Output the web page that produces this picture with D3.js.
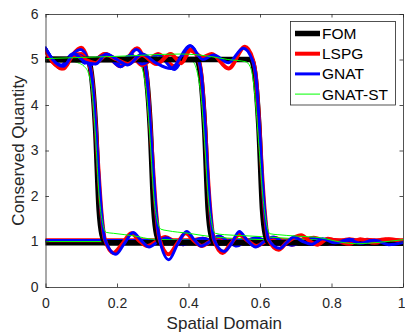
<!DOCTYPE html>
<html><head><meta charset="utf-8">
<script src="https://cdn.jsdelivr.net/npm/d3@7"></script>
<style>body{margin:0;background:#fff}svg{display:block}</style>
</head><body>
<script>
const xTicks = [0, 0.2, 0.4, 0.6, 0.8, 1];
const yTicks = [0, 1, 2, 3, 4, 5, 6];
const seriesNames = ["FOM", "LSPG", "GNAT", "GNAT-ST"];

// snapshot 0 (initial state)
const fom_t0 = [[0,0.97],[1,0.97]];
const lspg_t0 = [[0,1.03],[1,1.03]];
const gnat_t0 = [[0,1.02],[1,1.02]];
const st_t0 = [[0,1.0],[1,1.0]];

// snapshot 1
const fom_t1 = [[0,5],[0.118,5],[0.128,4.7],[0.14,3.5],[0.15,1.7],[0.158,1.15],[0.168,0.97],[1,0.97]];
const lspg_t1 = [[0,5.2],[0.02,4.97],[0.045,4.8],[0.07,5.05],[0.1,5.26],[0.118,5.0],[0.13,4.6],[0.14,3.6],[0.148,2.6],[0.157,1.6],[0.166,1.05],[0.19,0.75],[0.215,0.95],[0.24,1.18],[0.262,1.02],[0.285,0.9],[0.31,1.0],[0.335,1.1],[0.36,1.0],[0.385,0.94],[0.41,1.02],[0.44,1.06],[0.47,1.0],[0.5,0.96],[0.55,1.03],[0.6,0.98],[0.65,1.02],[0.7,0.99],[0.8,1.02],[0.9,0.99],[1,1.01]];
const gnat_t1 = [[0,5.25],[0.02,5.0],[0.043,4.83],[0.07,5.08],[0.098,5.22],[0.118,5.0],[0.13,4.6],[0.14,3.6],[0.148,2.6],[0.157,1.6],[0.166,1.05],[0.197,0.72],[0.22,0.95],[0.245,1.2],[0.268,1.02],[0.29,0.88],[0.315,1.0],[0.338,1.08],[0.36,1.0],[0.385,0.93],[0.41,1.0],[0.44,1.07],[0.47,1.0],[0.5,0.95],[0.55,1.04],[0.6,0.97],[0.65,1.03],[0.7,0.98],[0.8,1.02],[0.9,0.98],[1,1.0]];
const st_t1 = [[0,5.0],[0.06,4.98],[0.09,4.93],[0.108,4.85],[0.12,4.7],[0.13,4.3],[0.14,3.3],[0.15,2.0],[0.16,1.4],[0.17,1.2],[0.19,1.18],[0.25,1.12],[0.3,1.05],[0.4,1.03],[0.6,1.0],[1,1.0]];

// snapshot 2
const fom_t2 = [[0,5],[0.271,5],[0.281,4.7],[0.293,3.5],[0.303,1.7],[0.311,1.15],[0.321,0.97],[1,0.97]];
const lspg_t2 = [[0,5.2],[0.02,4.95],[0.045,4.85],[0.075,5.08],[0.1,5.12],[0.125,4.9],[0.165,5.12],[0.21,4.85],[0.256,5.25],[0.275,5.0],[0.284,4.6],[0.293,3.6],[0.301,2.6],[0.31,1.6],[0.319,1.05],[0.345,0.72],[0.368,0.95],[0.392,1.18],[0.415,1.02],[0.437,0.9],[0.46,1.0],[0.485,1.1],[0.51,1.0],[0.535,0.93],[0.56,1.0],[0.59,1.06],[0.62,1.0],[0.65,0.95],[0.7,1.05],[0.75,0.96],[0.8,1.04],[0.85,0.96],[0.9,1.04],[0.95,0.97],[1,1.02]];
const gnat_t2 = [[0,5.25],[0.02,5.0],[0.045,4.88],[0.075,5.12],[0.1,5.08],[0.125,4.88],[0.165,5.1],[0.21,4.84],[0.254,5.22],[0.275,5.0],[0.284,4.6],[0.293,3.6],[0.301,2.6],[0.31,1.6],[0.319,1.05],[0.345,0.6],[0.37,0.95],[0.395,1.22],[0.415,1.05],[0.435,0.9],[0.46,1.0],[0.485,1.12],[0.51,1.0],[0.535,0.9],[0.56,1.0],[0.59,1.08],[0.62,1.0],[0.65,0.94],[0.7,1.06],[0.75,0.95],[0.8,1.04],[0.85,0.95],[0.9,1.03],[0.95,0.96],[1,1.0]];
const st_t2 = [[0,4.98],[0.1,5.0],[0.2,5.03],[0.245,5.02],[0.262,4.92],[0.274,4.7],[0.283,4.2],[0.293,3.2],[0.303,2.0],[0.313,1.45],[0.323,1.27],[0.34,1.24],[0.4,1.18],[0.47,1.1],[0.55,1.06],[0.7,1.02],[1,1.0]];

// snapshot 3
const fom_t3 = [[0,5],[0.423,5],[0.433,4.7],[0.445,3.5],[0.455,1.7],[0.463,1.15],[0.473,0.97],[1,0.97]];
const lspg_t3 = [[0,5.2],[0.02,4.95],[0.05,4.82],[0.08,5.1],[0.11,4.95],[0.14,5.0],[0.17,5.12],[0.2,4.92],[0.24,5.08],[0.27,4.88],[0.315,5.12],[0.36,4.85],[0.407,5.22],[0.428,5.0],[0.437,4.6],[0.446,3.6],[0.453,2.6],[0.462,1.6],[0.471,1.05],[0.495,0.75],[0.518,0.95],[0.542,1.15],[0.565,1.02],[0.59,0.9],[0.615,1.0],[0.64,1.08],[0.665,1.0],[0.69,0.93],[0.72,1.02],[0.75,1.08],[0.8,0.95],[0.85,1.05],[0.9,0.96],[0.95,1.05],[1,1.0]];
const gnat_t3 = [[0,5.25],[0.02,5.0],[0.05,4.85],[0.08,5.12],[0.11,4.92],[0.14,5.02],[0.17,5.1],[0.2,4.9],[0.24,5.1],[0.27,4.9],[0.315,5.1],[0.36,4.78],[0.405,5.3],[0.428,5.0],[0.437,4.6],[0.446,3.6],[0.453,2.6],[0.462,1.6],[0.471,1.05],[0.5,0.78],[0.52,0.95],[0.542,1.22],[0.565,1.02],[0.588,0.88],[0.612,1.0],[0.637,1.1],[0.662,1.0],[0.688,0.92],[0.72,1.0],[0.75,1.07],[0.8,0.94],[0.85,1.05],[0.9,0.95],[0.95,1.03],[1,0.97]];
const st_t3 = [[0,5.0],[0.15,5.02],[0.3,5.05],[0.39,5.04],[0.413,4.95],[0.425,4.7],[0.435,4.2],[0.445,3.2],[0.455,2.0],[0.465,1.4],[0.475,1.18],[0.5,1.15],[0.55,1.13],[0.62,1.1],[0.7,1.06],[0.8,1.02],[1,1.0]];

// snapshot 4
const fom_t4 = [[0,5],[0.575,5],[0.585,4.7],[0.597,3.5],[0.607,1.7],[0.615,1.15],[0.625,0.97],[1,0.97]];
const lspg_t4 = [[0,5.2],[0.02,4.95],[0.05,4.8],[0.08,5.1],[0.11,5.0],[0.14,4.92],[0.17,5.1],[0.2,5.0],[0.23,4.9],[0.27,5.1],[0.31,4.9],[0.35,5.12],[0.38,4.92],[0.405,5.2],[0.44,5.05],[0.465,5.12],[0.512,4.8],[0.558,5.28],[0.58,5.0],[0.589,4.6],[0.598,3.6],[0.605,2.6],[0.614,1.6],[0.623,1.05],[0.652,0.82],[0.675,0.98],[0.715,1.14],[0.74,1.0],[0.76,0.93],[0.79,1.06],[0.82,1.0],[0.85,0.95],[0.88,1.05],[0.92,0.97],[0.96,1.05],[1,1.0]];
const gnat_t4 = [[0,5.25],[0.02,5.0],[0.05,4.85],[0.08,5.12],[0.11,4.95],[0.14,4.9],[0.17,5.12],[0.2,5.0],[0.23,4.88],[0.27,5.12],[0.31,4.92],[0.35,4.8],[0.405,5.3],[0.44,5.0],[0.47,5.1],[0.512,4.93],[0.553,5.25],[0.578,5.0],[0.589,4.6],[0.598,3.6],[0.605,2.6],[0.614,1.6],[0.623,1.05],[0.655,0.85],[0.675,0.98],[0.695,1.1],[0.72,1.0],[0.745,0.94],[0.775,1.06],[0.81,0.97],[0.85,1.03],[0.88,0.96],[0.92,1.03],[0.96,0.93],[1,0.98]];
const st_t4 = [[0,5.02],[0.2,5.07],[0.38,5.12],[0.45,5.08],[0.51,5.0],[0.56,4.95],[0.572,4.85],[0.58,4.6],[0.588,4.0],[0.598,3.0],[0.608,2.0],[0.618,1.4],[0.628,1.17],[0.65,1.15],[0.7,1.12],[0.77,1.08],[0.83,0.98],[0.87,0.95],[0.93,0.98],[1,1.04]];

const snapshots = [
  [fom_t0, lspg_t0, gnat_t0, st_t0],
  [fom_t1, lspg_t1, gnat_t1, st_t1],
  [fom_t2, lspg_t2, gnat_t2, st_t2],
  [fom_t3, lspg_t3, gnat_t3, st_t3],
  [fom_t4, lspg_t4, gnat_t4, st_t4]
];

const styles = [
  {color: "#000000", width: 5.5},
  {color: "#ff0000", width: 4},
  {color: "#0000ff", width: 3},
  {color: "#00ff00", width: 1}
];

const W = 405, H = 334;
const m = {left: 45.5, right: 2, top: 14, bottom: 47};
const svg = d3.select("body").append("svg").attr("width", W).attr("height", H);
const x = d3.scaleLinear().domain([0, 1]).range([m.left, W - m.right]);
const y = d3.scaleLinear().domain([0, 6]).range([H - m.bottom, m.top]);
const font = "'Liberation Sans', Arial, Helvetica, sans-serif";
const axisColor = "#262626";

svg.append("defs").append("clipPath").attr("id", "clip")
  .append("rect").attr("x", x(0)).attr("y", y(6)).attr("width", x(1) - x(0)).attr("height", y(0) - y(6));

const line = d3.line().x(d => x(d[0])).y(d => y(d[1])).curve(d3.curveMonotoneX);
const plot = svg.append("g").attr("clip-path", "url(#clip)");
snapshots.forEach(snap => {
  snap.forEach((data, i) => {
    plot.append("path").attr("d", line(data)).attr("fill", "none")
      .attr("stroke", styles[i].color).attr("stroke-width", styles[i].width)
      .attr("stroke-linejoin", "round").attr("stroke-linecap", "round");
  });
});

// axes
const tl = 3.5;
const fmt = d3.format("");
const gx = svg.append("g").attr("transform", `translate(0,${y(0)})`)
  .call(d3.axisBottom(x).tickValues(xTicks).tickSizeInner(-tl).tickSizeOuter(0).tickPadding(8).tickFormat(fmt));
const gxt = svg.append("g").attr("transform", `translate(0,${y(6)})`)
  .call(d3.axisTop(x).tickValues(xTicks).tickSizeInner(-tl).tickSizeOuter(0).tickFormat(""));
const gy = svg.append("g").attr("transform", `translate(${x(0)},0)`)
  .call(d3.axisLeft(y).tickValues(yTicks).tickSizeInner(-tl).tickSizeOuter(0).tickPadding(7).tickFormat(fmt));
const gyr = svg.append("g").attr("transform", `translate(${x(1)},0)`)
  .call(d3.axisRight(y).tickValues(yTicks).tickSizeInner(-tl).tickSizeOuter(0).tickFormat(""));
[gx, gxt, gy, gyr].forEach(g => {
  g.selectAll("path.domain").attr("stroke", axisColor).attr("stroke-width", 0.8);
  g.selectAll(".tick line").attr("stroke", axisColor).attr("stroke-width", 0.8);
  g.selectAll(".tick text").attr("fill", axisColor).style("font-family", font).style("font-size", "14px");
});
gx.selectAll(".tick text").attr("dy", "0.9em");
gx.selectAll(".tick text").filter(d => d === 1).attr("text-anchor", "end").attr("x", 2);

svg.append("text").attr("x", (x(0) + x(1)) / 2).attr("y", 329)
  .attr("text-anchor", "middle").style("font-family", font).style("font-size", "17px")
  .attr("fill", axisColor).text("Spatial Domain");
svg.append("text").attr("transform", `translate(24,${(y(0) + y(6)) / 2}) rotate(-90)`)
  .attr("text-anchor", "middle").style("font-family", font).style("font-size", "17px")
  .attr("fill", axisColor).text("Conserved Quantity");

// legend
const lg = svg.append("g");
lg.append("rect").attr("x", 290.5).attr("y", 21.5).attr("width", 105).attr("height", 83.5)
  .attr("fill", "#fff").attr("stroke", axisColor).attr("stroke-width", 0.8);
seriesNames.forEach((name, i) => {
  const yy = 33.5 + i * 20.2;
  lg.append("line").attr("x1", 295).attr("x2", 320).attr("y1", yy).attr("y2", yy)
    .attr("stroke", styles[i].color).attr("stroke-width", styles[i].width);
  lg.append("text").attr("x", 322).attr("y", yy).attr("dy", "0.36em")
    .style("font-family", font).style("font-size", "15.5px").attr("fill", "#000").text(name);
});
</script>
</body></html>
